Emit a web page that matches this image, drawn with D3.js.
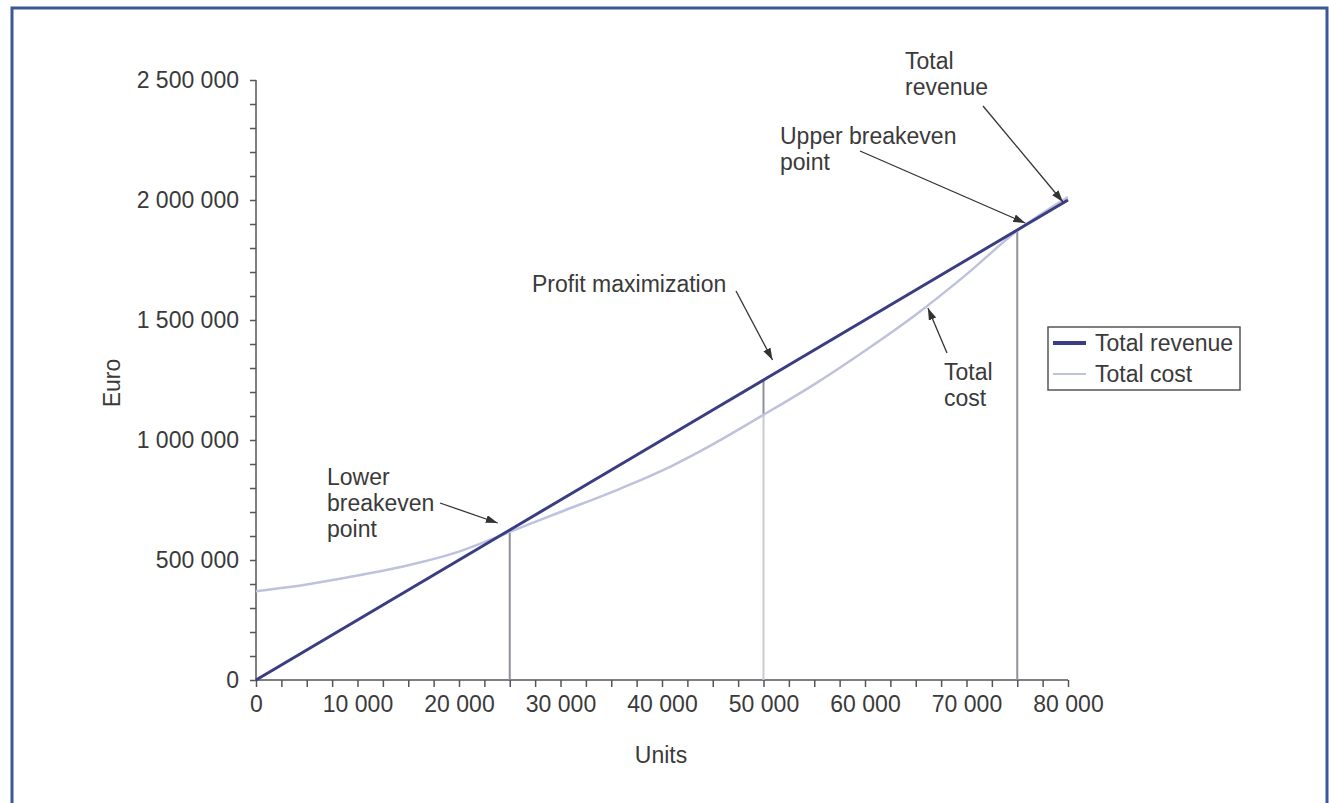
<!DOCTYPE html>
<html>
<head>
<meta charset="utf-8">
<script src="https://cdn.jsdelivr.net/npm/d3@7"></script>
<style>
  body { margin: 0; background: #fff; }
  svg text { font-family: "Liberation Sans", Arial, sans-serif; fill: #3a3a3a; }
</style>
</head>
<body>
<div id="chart"></div>
<script>
// break-even chart: revenue vs cost

const units = [0, 5000, 10000, 15000, 20000, 25000, 30000, 35000, 40000,
    45000, 50000, 55000, 60000, 65000, 70000, 75000, 80000];
const totalRevenue = [0, 125000, 250000, 375000, 500000, 625000, 750000, 875000, 1000000,
    1125000, 1250000, 1375000, 1500000, 1625000, 1750000, 1875000, 2000000];
const totalCost = [370000, 398000, 435000, 478000, 535000, 617000, 700000, 782000, 872000,
    982000, 1105000, 1232000, 1372000, 1522000, 1690000, 1872000, 2012000];

const seriesNames = ['Total revenue', 'Total cost'];
const xTickLabels = [0, 10000, 20000, 30000, 40000, 50000, 60000, 70000, 80000];
const yTickLabels = [0, 500000, 1000000, 1500000, 2000000, 2500000];

// points with drop lines
const keyUnits = [25000, 50000, 75000];

const width = 1329, height = 803;
const fontSize = '23px';

const svg = d3.select('#chart').append('svg')
    .attr('width', width)
    .attr('height', height);

// frame
svg.append('path')
    .attr('d', 'M12,803 L12,8 L1327,8 L1327,803')
    .attr('fill', 'none')
    .attr('stroke', '#3c5896')
    .attr('stroke-width', 3);

const x = d3.scaleLinear().domain([0, 80000]).range([256, 1068]);
const y = d3.scaleLinear().domain([0, 2500000]).range([680, 80]);

const fmt = d3.formatLocale({ decimal: '.', thousands: ' ', grouping: [3], currency: ['', ''] }).format(',d');

// axes
const xAxis = d3.axisBottom(x)
    .tickValues(d3.range(0, 80001, 2500))
    .tickSize(7)
    .tickPadding(9)
    .tickFormat(d => xTickLabels.includes(d) ? fmt(d) : '');

const gx = svg.append('g')
    .attr('transform', 'translate(0,680)')
    .call(xAxis);

const yAxis = d3.axisLeft(y)
    .tickValues(d3.range(0, 2500001, 100000))
    .tickSize(6)
    .tickPadding(11)
    .tickFormat(d => yTickLabels.includes(d) ? fmt(d) : '');

const gy = svg.append('g')
    .attr('transform', 'translate(256,0)')
    .call(yAxis);

[gx, gy].forEach(g => {
    g.select('.domain').attr('stroke', '#555').attr('stroke-width', 1.5);
    g.selectAll('.tick line').attr('stroke', '#555').attr('stroke-width', 1.5);
    g.selectAll('.tick text').style('font-size', fontSize).attr('fill', '#3a3a3a');
});
gx.select('.domain').attr('d', 'M256,0H1068');
gy.select('.domain').attr('d', 'M0,80V680');

// axis titles
svg.append('text')
    .attr('x', 661).attr('y', 763)
    .attr('text-anchor', 'middle')
    .style('font-size', fontSize)
    .text('Units');

svg.append('text')
    .attr('transform', 'translate(120,383) rotate(-90)')
    .attr('text-anchor', 'middle')
    .style('font-size', fontSize)
    .text('Euro');

// drop lines
const revAt = u => totalRevenue[units.indexOf(u)];
const costAt = u => totalCost[units.indexOf(u)];

keyUnits.forEach((u, i) => {
    const light = i === 1;
    svg.append('line')
        .attr('x1', x(u)).attr('x2', x(u))
        .attr('y1', light ? y(costAt(u)) : y(revAt(u)))
        .attr('y2', y(0))
        .attr('stroke', light ? '#c9cad6' : '#8f909c')
        .attr('stroke-width', 2);
    if (light) {
        svg.append('line')
            .attr('x1', x(u)).attr('x2', x(u))
            .attr('y1', y(revAt(u))).attr('y2', y(costAt(u)))
            .attr('stroke', '#8f909c')
            .attr('stroke-width', 2);
    }
});

// series lines
const costLine = d3.line()
    .x((d, i) => x(units[i]))
    .y(d => y(d))
    .curve(d3.curveMonotoneX);

const revLine = d3.line()
    .x((d, i) => x(units[i]))
    .y(d => y(d));

svg.append('path')
    .datum(totalCost)
    .attr('d', costLine)
    .attr('fill', 'none')
    .attr('stroke', '#bfc2dc')
    .attr('stroke-width', 2.5);

svg.append('path')
    .datum(totalRevenue)
    .attr('d', revLine)
    .attr('fill', 'none')
    .attr('stroke', '#393d82')
    .attr('stroke-width', 3);

// annotations
svg.append('defs').append('marker')
    .attr('id', 'arrow')
    .attr('viewBox', '0 0 12 8')
    .attr('refX', 12).attr('refY', 4)
    .attr('markerWidth', 12).attr('markerHeight', 8)
    .attr('markerUnits', 'userSpaceOnUse')
    .attr('orient', 'auto')
    .append('path')
    .attr('d', 'M0,0 L12,4 L0,8 Z')
    .attr('fill', '#333');

const notes = [
    { lines: ['Lower', 'breakeven', 'point'], tx: 327, ty: 485, from: [440, 503], at: [25000, 625000], off: [-12, -7] },
    { lines: ['Profit maximization'], tx: 532, ty: 292, from: [736, 291], at: [50000, 1250000], off: [9, -20] },
    { lines: ['Upper breakeven', 'point'], tx: 780, ty: 144, from: [860, 151], at: [75000, 1875000], off: [8, -7] },
    { lines: ['Total', 'revenue'], tx: 905, ty: 69, from: [983, 106], at: [80000, 2000000], off: [-5, 2] },
    { lines: ['Total', 'cost'], tx: 944, ty: 380, from: [947, 353], at: [66000, 1550000], off: [2, 0] }
];

notes.forEach(n => {
    const t = svg.append('text')
        .attr('x', n.tx).attr('y', n.ty)
        .style('font-size', fontSize);
    n.lines.forEach((l, i) => {
        t.append('tspan').attr('x', n.tx).attr('dy', i === 0 ? 0 : 26).text(l);
    });
    svg.append('line')
        .attr('x1', n.from[0]).attr('y1', n.from[1])
        .attr('x2', x(n.at[0]) + n.off[0]).attr('y2', y(n.at[1]) + n.off[1])
        .attr('stroke', '#333')
        .attr('stroke-width', 1.3)
        .attr('marker-end', 'url(#arrow)');
});

// legend
const legend = svg.append('g').attr('transform', 'translate(1048,327)');
legend.append('rect')
    .attr('width', 192).attr('height', 63)
    .attr('fill', '#fff')
    .attr('stroke', '#555')
    .attr('stroke-width', 1.5);

const legendStyle = [
    { color: '#393d82', w: 4 },
    { color: '#bfc2dc', w: 2 }
];

seriesNames.forEach((name, i) => {
    const row = legend.append('g').attr('transform', `translate(0,${16 + i * 31})`);
    row.append('line')
        .attr('x1', 5).attr('x2', 38)
        .attr('stroke', legendStyle[i].color)
        .attr('stroke-width', legendStyle[i].w);
    row.append('text')
        .attr('x', 47).attr('y', 8)
        .style('font-size', fontSize)
        .text(name);
});
</script>
</body>
</html>
